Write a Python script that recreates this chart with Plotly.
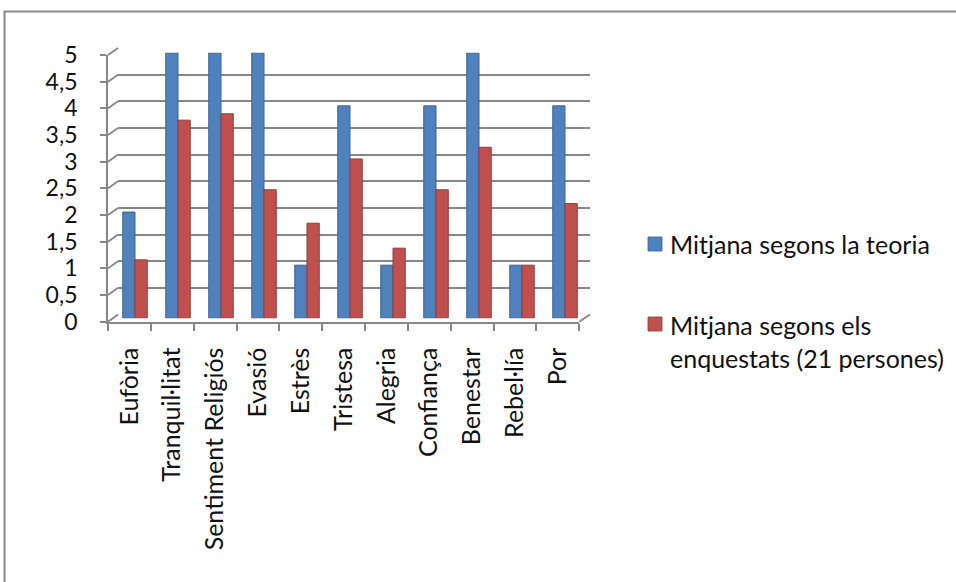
import plotly.graph_objects as go

# ---- data -------------------------------------------------------------
categories = ["Eufòria", "Tranquil·litat", "Sentiment Religiós", "Evasió", "Estrès",
              "Tristesa", "Alegria", "Confiança", "Benestar", "Rebel·lía", "Por"]
teoria = [2, 5, 5, 5, 1, 4, 1, 4, 5, 1, 4]
enquestats = [1.1, 3.73, 3.85, 2.42, 1.79, 3.0, 1.32, 2.42, 3.22, 1.0, 2.16]
series_names = ["Mitjana segons la teoria", "Mitjana segons els enquestats (21 persones)"]
legend_labels = ["Mitjana segons la teoria", "Mitjana segons els<br>enquestats (21 persones)"]
y_ticks = [0, 0.5, 1, 1.5, 2, 2.5, 3, 3.5, 4, 4.5, 5]
y_ticktext = ["0", "0,5", "1", "1,5", "2", "2,5", "3", "3,5", "4", "4,5", "5"]

# ---- geometry (pixels) -------------------------------------------------
W, H = 956, 582
FONT = "Lato"
FONT_SIZE = 25
GRID = "#878787"
BLUE, BLUE_EDGE = "#4F81BD", "#3B6596"
RED, RED_EDGE = "#C0504D", "#943B38"


def px(x):
    return x / W


def py(y):
    return 1 - y / H


# back wall, bar layer and front axes of the pseudo-3D box
BACK = dict(x0=118, x1=590, y0=314.5, y5=48.0)
BARS = dict(x0=113.5, x1=586.5, y0=318.3, y5=52.7)
FRONT = dict(x0=108, x1=579.3, y0=321.7, y5=55.0)
YMAX = 5

fig = go.Figure()

# back wall (only its gridlines are visible)
fig.add_trace(go.Scatter(x=[], y=[], xaxis="x", yaxis="y", showlegend=False, hoverinfo="skip"))

# bars
fig.add_trace(go.Bar(x=categories, y=teoria, name=series_names[0], xaxis="x2", yaxis="y2",
                     marker=dict(color=BLUE, line=dict(color=BLUE_EDGE, width=1)),
                     showlegend=False))
fig.add_trace(go.Bar(x=categories, y=enquestats, name=series_names[1], xaxis="x2", yaxis="y2",
                     marker=dict(color=RED, line=dict(color=RED_EDGE, width=1)),
                     showlegend=False))

# front axes carrying the labels
fig.add_trace(go.Scatter(x=categories, y=[None] * len(categories), xaxis="x3", yaxis="y3",
                         mode="markers", showlegend=False, hoverinfo="skip"))

tick_font = dict(family=FONT, size=FONT_SIZE, color="#111111")
value_font = dict(family=FONT, size=23, color="#111111")

fig.update_layout(
    template="none",
    width=W, height=H,
    margin=dict(l=0, r=0, t=0, b=0, pad=0, autoexpand=False),
    paper_bgcolor="white",
    plot_bgcolor="rgba(0,0,0,0)",
    barmode="group",
    bargap=0.43,
    bargroupgap=0,
    showlegend=False,
    xaxis=dict(domain=[px(BACK["x0"]), px(BACK["x1"])], range=[0, 1], anchor="y",
               visible=False, fixedrange=True, automargin=False),
    yaxis=dict(domain=[py(BACK["y0"]), py(BACK["y5"])], range=[0, YMAX], anchor="x",
               tickvals=y_ticks, showticklabels=False, ticks="", showgrid=True, gridcolor=GRID,
               gridwidth=1.8, zeroline=False, showline=False, fixedrange=True, automargin=False),
    xaxis2=dict(domain=[px(BARS["x0"]), px(BARS["x1"])], anchor="y2", type="category",
                range=[-0.5, len(categories) - 0.5], visible=False, fixedrange=True,
                automargin=False),
    yaxis2=dict(domain=[py(BARS["y0"]), py(BARS["y5"])], anchor="x2", range=[0, YMAX],
                visible=False, fixedrange=True, automargin=False),
    xaxis3=dict(domain=[px(FRONT["x0"]), px(FRONT["x1"])], anchor="y3", type="category",
                range=[-0.5, len(categories) - 0.5], showgrid=False, zeroline=False,
                showline=True, linecolor=GRID, linewidth=1.8,
                ticks="outside", tickson="boundaries", ticklen=7, tickcolor=GRID, tickwidth=1.8,
                tickangle=-90, tickfont=tick_font, ticklabelstandoff=14, fixedrange=True,
                automargin=False),
    yaxis3=dict(domain=[py(FRONT["y0"]), py(FRONT["y5"])], anchor="x3", range=[0, YMAX],
                tickvals=y_ticks, ticktext=y_ticktext, showgrid=False, zeroline=False,
                showline=True, linecolor=GRID, linewidth=1.8,
                ticks="outside", ticklen=6, tickcolor=GRID, tickwidth=1.8,
                tickfont=value_font, ticklabelstandoff=18, fixedrange=True, automargin=False),
)

shapes = []


def yf(v, box):
    return box["y0"] + (box["y5"] - box["y0"]) * v / YMAX


# connectors from the front value axis to the back wall
for v in y_ticks:
    shapes.append(dict(type="line", xref="paper", yref="paper",
                       x0=px(FRONT["x0"]), y0=py(yf(v, FRONT)),
                       x1=px(BACK["x0"]), y1=py(yf(v, BACK)),
                       line=dict(color=GRID, width=1.8)))
# floor edge on the right
shapes.append(dict(type="line", xref="paper", yref="paper",
                   x0=px(FRONT["x1"]), y0=py(FRONT["y0"]),
                   x1=px(BACK["x1"]), y1=py(BACK["y0"]),
                   line=dict(color=GRID, width=1.8)))
# chart frame
shapes.append(dict(type="rect", xref="paper", yref="paper",
                   x0=px(4.5), y0=py(600), x1=px(990), y1=py(11.5),
                   line=dict(color="#8a8a8a", width=2), fillcolor="rgba(0,0,0,0)"))

# legend
legend_colors = [(BLUE, BLUE_EDGE), (RED, RED_EDGE)]
legend_rows = [244, 341]          # vertical centre of each entry's text block
legend_marks = [244, 324]         # vertical centre of each colour square
annotations = []
for label, (fill, edge), ty, my in zip(legend_labels, legend_colors, legend_rows, legend_marks):
    shapes.append(dict(type="rect", xref="paper", yref="paper",
                       x0=px(648), x1=px(662), y0=py(my + 7), y1=py(my - 7),
                       fillcolor=fill, line=dict(color=edge, width=0.8)))
    annotations.append(dict(text=label, xref="paper", yref="paper", x=px(668), y=py(ty),
                            xanchor="left", yanchor="middle", align="left", showarrow=False,
                            font=dict(family=FONT, size=FONT_SIZE, color="#111111")))

fig.update_layout(shapes=shapes, annotations=annotations)

fig.write_html("out.html")
